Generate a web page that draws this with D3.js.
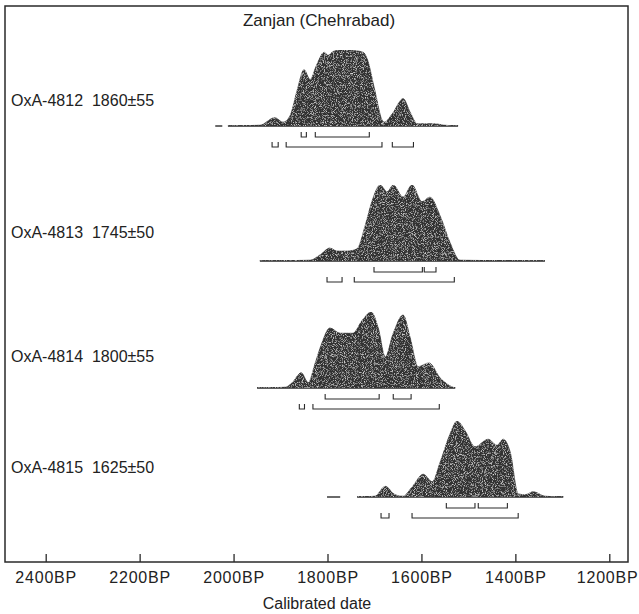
<!DOCTYPE html>
<html>
<head>
<meta charset="utf-8">
<script src="https://cdn.jsdelivr.net/npm/d3@7"></script>
<style>
  body { margin: 0; background: #fff; }
  svg { display: block; font-family: "Liberation Sans", Arial, sans-serif; }
</style>
</head>
<body>
<div id="chart"></div>
<script>
// Calibrated probability distributions
// years are cal BP, prob is relative probability (peak ~ 1)
const title = "Zanjan (Chehrabad)";
const samples = ["OxA-4812  1860±55", "OxA-4813  1745±50", "OxA-4814  1800±55", "OxA-4815  1625±50"];

const dist4812 = [
  [2012, 0], [1944, 0.01], [1912, 0.11], [1895, 0.05], [1880, 0.13], [1865, 0.46],
  [1850, 0.74], [1837, 0.61], [1824, 0.79], [1807, 0.97], [1799, 0.93], [1788, 0.98],
  [1772, 1.0], [1756, 1.0], [1740, 0.99], [1724, 0.97], [1716, 0.89], [1699, 0.46],
  [1684, 0.08], [1679, 0.05], [1662, 0.16], [1639, 0.36], [1624, 0.18], [1609, 0.03],
  [1575, 0.03], [1550, 0.01], [1522, 0]
];
const dist4813 = [
  [1944, 0], [1837, 0.01], [1816, 0.08], [1795, 0.17], [1780, 0.13], [1758, 0.13],
  [1737, 0.16], [1720, 0.46], [1705, 0.79], [1688, 1.0], [1673, 0.91], [1660, 1.0],
  [1639, 0.84], [1620, 1.0], [1599, 0.78], [1582, 0.84], [1560, 0.59], [1539, 0.24],
  [1518, 0.01], [1337, 0]
];
const dist4814 = [
  [1950, 0], [1890, 0.01], [1875, 0.07], [1856, 0.2], [1841, 0.07], [1826, 0.33],
  [1812, 0.59], [1795, 0.79], [1773, 0.72], [1746, 0.72], [1726, 0.89], [1707, 1.0],
  [1692, 0.79], [1677, 0.41], [1660, 0.72], [1639, 0.96], [1624, 0.66], [1607, 0.28],
  [1584, 0.33], [1560, 0.13], [1533, 0.01], [1528, 0]
];
const dist4815 = [
  [1737, 0], [1699, 0.01], [1677, 0.14], [1656, 0.03], [1639, 0.01], [1620, 0.13],
  [1596, 0.3], [1577, 0.2], [1560, 0.46], [1539, 0.83], [1524, 1.0], [1507, 0.87],
  [1486, 0.66], [1458, 0.76], [1439, 0.68], [1426, 0.76], [1411, 0.59], [1394, 0.04],
  [1379, 0.03], [1362, 0.07], [1337, 0.01], [1298, 0]
];

// short stray segments of the baseline left of the curve
const stubs = [[[2039, 2024]], [], [], [[1801, 1773]]];

// 68.2% and 95.4% ranges [from, to]
const ranges68 = [
  [[1856, 1845], [1826, 1711]],
  [[1701, 1598], [1594, 1569]],
  [[1805, 1690], [1660, 1622]],
  [[1547, 1486], [1479, 1417]]
];
const ranges95 = [
  [[1918, 1905], [1888, 1684], [1662, 1617]],
  [[1801, 1769], [1743, 1530]],
  [[1860, 1849], [1831, 1562]],
  [[1686, 1669], [1620, 1394]]
];

const tickYears = [2400, 2200, 2000, 1800, 1600, 1400, 1200];
const xTitle = "Calibrated date";

const dists = [dist4812, dist4813, dist4814, dist4815];

// layout
const W = 639, H = 614;
const frame = {left: 5, top: 6, right: 628, bottom: 562};
const rowBase = [126, 261, 388, 497];
const labelY = [106, 238, 362, 473];
const ink = "#2a2a2a";

const svg = d3.select("#chart").append("svg")
  .attr("width", W).attr("height", H);

const defs = svg.append("defs");
const f = defs.append("filter").attr("id", "grain")
  .attr("x", 0).attr("y", 0).attr("width", "100%").attr("height", "100%");
f.append("feTurbulence").attr("type", "fractalNoise").attr("baseFrequency", 1.1)
  .attr("numOctaves", 2).attr("seed", 4).attr("result", "noise");
f.append("feColorMatrix").attr("in", "noise").attr("type", "matrix")
  .attr("values", "0 0 0 0 0.8  0 0 0 0 0.8  0 0 0 0 0.8  2.4 0 0 0 -1.2")
  .attr("result", "specks");
f.append("feComposite").attr("in", "specks").attr("in2", "SourceAlpha")
  .attr("operator", "in").attr("result", "sp");
const merge = f.append("feMerge");
merge.append("feMergeNode").attr("in", "SourceGraphic");
merge.append("feMergeNode").attr("in", "sp");

const x = d3.scaleLinear().domain([2400, 1200]).range([45.7, 609.3]);
const y = d3.scaleLinear().domain([0, 1]).range([0, 76]);

// frame
svg.append("rect")
  .attr("x", frame.left).attr("y", frame.top)
  .attr("width", frame.right - frame.left).attr("height", frame.bottom - frame.top)
  .attr("fill", "none").attr("stroke", ink).attr("stroke-width", 1.5);

// axis
const axis = svg.append("g")
  .attr("transform", `translate(0,${frame.bottom})`)
  .call(d3.axisBottom(x).tickValues(tickYears).tickSize(-8).tickPadding(10)
    .tickFormat(d => d + "BP"));
axis.select(".domain").remove();
axis.selectAll(".tick line").attr("stroke", ink).attr("stroke-width", 1.3);
axis.selectAll(".tick text")
  .attr("fill", "#222").style("font-size", "16px").style("letter-spacing", "0.8px")
  .style("font-family", "'Liberation Sans', Arial, sans-serif");
// keep the last label inside the page
axis.selectAll(".tick text").filter(d => d === 1200)
  .attr("text-anchor", "end").attr("dx", W - 1 - x(1200));

svg.append("text")
  .attr("x", 317).attr("y", 609)
  .attr("text-anchor", "middle").attr("fill", "#222")
  .style("font-size", "16px")
  .text(xTitle);

svg.append("text")
  .attr("x", 319).attr("y", 26)
  .attr("text-anchor", "middle").attr("fill", "#222")
  .style("font-size", "17px")
  .text(title);

dists.forEach((dist, i) => {
  const base = rowBase[i];
  const g = svg.append("g");

  // label
  g.append("text")
    .attr("x", 11).attr("y", labelY[i])
    .attr("fill", "#222").style("font-size", "16px").style("white-space", "pre")
    .text(samples[i]);

  // baseline across the range of the curve
  const ext = d3.extent(dist, d => d[0]);
  g.append("line")
    .attr("x1", x(ext[1])).attr("x2", x(ext[0]))
    .attr("y1", base).attr("y2", base)
    .attr("stroke", ink).attr("stroke-width", 1.4);
  stubs[i].forEach(s => {
    g.append("line")
      .attr("x1", x(s[0])).attr("x2", x(s[1]))
      .attr("y1", base).attr("y2", base)
      .attr("stroke", ink).attr("stroke-width", 1.4);
  });

  const area = d3.area()
    .x(d => x(d[0]))
    .y0(base)
    .y1(d => base - y(d[1]))
    .curve(d3.curveMonotoneX);

  g.append("path")
    .datum(dist)
    .attr("d", area)
    .attr("fill", "#333")
    .attr("stroke", "#333").attr("stroke-width", 0.8)
    .attr("filter", "url(#grain)");

  // range brackets
  const drawRanges = (rs, off) => {
    rs.forEach(r => {
      const x0 = x(r[0]), x1 = x(r[1]), yb = base + off;
      g.append("path")
        .attr("d", `M${x0},${yb - 5}V${yb}H${x1}V${yb - 5}`)
        .attr("fill", "none").attr("stroke", ink).attr("stroke-width", 1.1);
    });
  };
  drawRanges(ranges68[i], 11);
  drawRanges(ranges95[i], 21);
});
</script>
</body>
</html>
